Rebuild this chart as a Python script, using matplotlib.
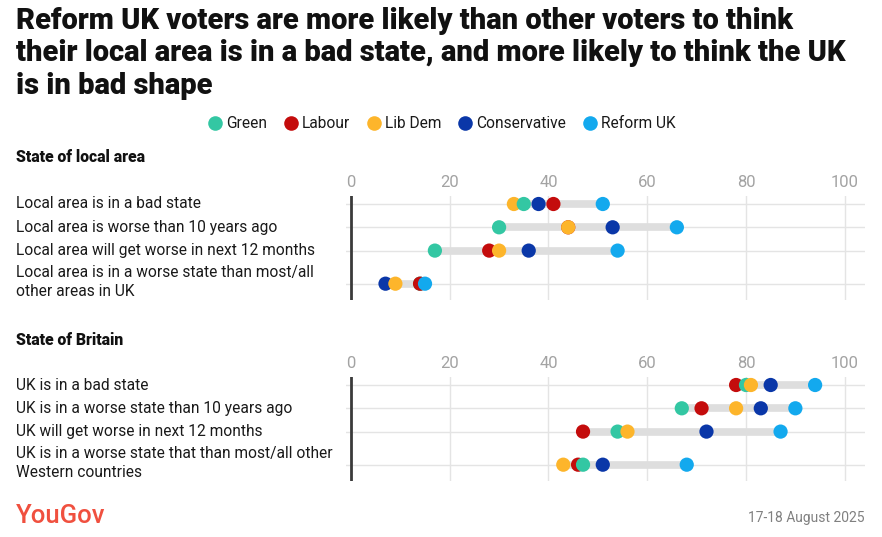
import matplotlib
matplotlib.use("Agg")
import matplotlib.pyplot as plt
from matplotlib.lines import Line2D
from matplotlib.transforms import blended_transform_factory

plt.rcParams['font.family'] = ['Roboto', 'DejaVu Sans']

parties = ['Green', 'Labour', 'Lib Dem', 'Conservative', 'Reform UK']
colors = ['#33c7a3', '#c40c0c', '#fdb52b', '#0a37a8', '#13a9ee']

local_labels = ['Local area is in a bad state',
                'Local area is worse than 10 years ago',
                'Local area will get worse in next 12 months',
                'Local area is in a worse state than most/all\nother areas in UK']
local_green = [35, 30, 17, 14]
local_labour = [41, 44, 28, 14]
local_libdem = [33, 44, 30, 9]
local_con = [38, 53, 36, 7]
local_reform = [51, 66, 54, 15]

uk_labels = ['UK is in a bad state',
             'UK is in a worse state than 10 years ago',
             'UK will get worse in next 12 months',
             'UK is in a worse state that than most/all other\nWestern countries']
uk_green = [80, 67, 54, 47]
uk_labour = [78, 71, 47, 46]
uk_libdem = [81, 78, 56, 43]
uk_con = [85, 83, 72, 51]
uk_reform = [94, 90, 87, 68]

ticks = [0, 20, 40, 60, 80, 100]

W, H = 882, 537
fig = plt.figure(figsize=(W / 100, H / 100), dpi=100)
fig.patch.set_facecolor('white')


def fx(px):
    return px / W


def fy(py):
    return 1 - py / H


def panel(top, labels, series):
    ax = fig.add_axes([fx(346), fy(top + 104), fx(865) - fx(346), 104 / H])
    row_h = 23.3
    ys = []
    y = 0
    for lab in labels:
        n = lab.count('\n')
        ys.append(y + 0.42 * n)
        y += 1 + 0.84 * n
    ax.set_xlim(-1.0, 104.1)
    ax.set_ylim(104 / row_h - 8 / row_h, -8 / row_h)
    for s in ax.spines.values():
        s.set_visible(False)
    ax.set_yticks([])
    ax.set_xticks(ticks)
    ax.xaxis.tick_top()
    ax.tick_params(axis='x', length=0, pad=4, labelsize=12, labelcolor='#a3a3a3')
    for t in ticks[1:]:
        ax.axvline(t, color='#e4e4e4', lw=1, zorder=0)
    ax.axvline(0, color='#3a3a3a', lw=2, zorder=1)
    trans = blended_transform_factory(fig.transFigure, ax.transData)
    for i, lab in enumerate(labels):
        yv = ys[i]
        vals = [s[i] for s in series]
        ax.axhline(yv, color='#e4e4e4', lw=1, zorder=0.5)
        ax.hlines(yv, min(vals), max(vals), color='#dedede', lw=5.5, zorder=2)
        order = sorted(range(len(vals)), key=lambda k: vals[k])
        for rank, k in enumerate(order):
            ax.scatter(vals[k], yv, s=105, color=colors[k], edgecolors='none',
                       zorder=3 + rank * 0.1)
        ax.text(fx(16), yv - 0.09 * lab.count('\n'), lab, transform=trans, ha='left',
                va='center', fontsize=11.2, color='#1a1a1a', linespacing=1.32)
    return ax


# title
fig.text(fx(16), fy(7), 'Reform UK voters are more likely than other voters to think\n'
         'their local area is in a bad state, and more likely to think the UK\n'
         'is in bad shape', ha='left', va='top', fontsize=21, fontweight='black',
         color='#111111', linespacing=1.2)

# legend
handles = [Line2D([], [], marker='o', ls='none', markersize=10.5, markerfacecolor=c,
                  markeredgecolor='none') for c in colors]
fig.legend(handles, parties, loc='center', bbox_to_anchor=(fx(441), fy(124)), ncol=5,
           frameon=False, handletextpad=0.15, columnspacing=1.0, handlelength=1.1,
           prop={'size': 11.2}, labelcolor='#1a1a1a')

fig.text(fx(16), fy(157), 'State of local area', ha='left', va='center', fontsize=11.3,
         fontweight='black', color='#111111')
panel(196, local_labels, [local_green, local_labour, local_libdem, local_con, local_reform])

fig.text(fx(16), fy(340), 'State of Britain', ha='left', va='center', fontsize=11.3,
         fontweight='black', color='#111111')
panel(377, uk_labels, [uk_green, uk_labour, uk_libdem, uk_con, uk_reform])

fig.text(fx(16), fy(516), 'YouGov', ha='left', va='center', fontsize=18.5,
         fontweight='medium', color='#f0503f')
fig.text(fx(865), fy(518), '17-18 August 2025', ha='right', va='center', fontsize=10,
         color='#808080')

fig.savefig('out.png', dpi=100, facecolor='white')
